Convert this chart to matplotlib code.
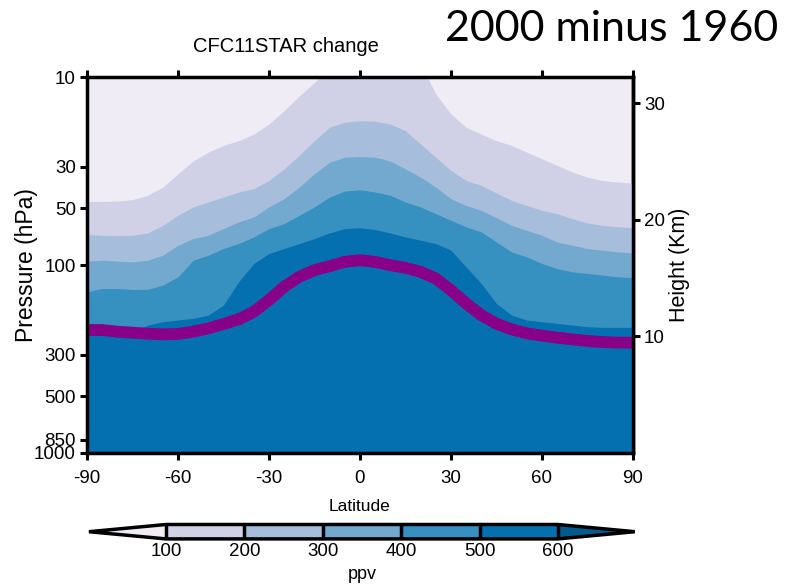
import numpy as np
import matplotlib
matplotlib.use('Agg')
import matplotlib.pyplot as plt
from matplotlib.colors import ListedColormap, BoundaryNorm
from matplotlib.cm import ScalarMappable
from matplotlib.ticker import NullLocator

plt.rcParams['font.family'] = ['Liberation Sans', 'DejaVu Sans']

# latitude columns (deg), every 5 degrees
lat = [-90, -85, -80, -75, -70, -65, -60, -55, -50, -45, -40, -35, -30, -25, -20, -15, -10, -5, 0,
       5, 10, 15, 20, 25, 30, 35, 40, 45, 50, 55, 60, 65, 70, 75, 80, 85, 90]

# pressure (hPa) where the CFC11STAR change crosses each contour level
p_100 = [45.9, 45.9, 45.7, 44.9, 42.6, 38.5, 32.7, 28.0, 25.1, 23.1, 21.8, 20.1, 17.8, 15.1, 12.6, 10.7, 9.0, 7.8, 7.5,
         7.5, 7.5, 7.8, 8.5, 12.3, 15.7, 18.5, 20.1, 21.8, 23.1, 25.1, 27.2, 29.5, 32.0, 34.1, 35.5, 36.2, 36.7]
p_200 = [68.9, 69.5, 69.8, 69.5, 67.5, 61.5, 54.4, 49.1, 46.2, 43.5, 40.9, 39.3, 35.5, 30.8, 26.1, 21.8, 18.5, 17.4, 17.1,
         17.2, 17.8, 19.3, 22.7, 26.7, 31.4, 35.5, 37.7, 41.4, 45.3, 48.2, 51.2, 53.3, 56.7, 59.7, 61.5, 62.7, 63.3]
p_300 = [95.4, 94.3, 95.4, 96.2, 94.3, 88.7, 78.5, 72.3, 69.5, 64.0, 59.0, 55.5, 49.1, 44.4, 38.5, 32.7, 28.4, 26.7, 26.5,
         26.7, 28.0, 30.8, 34.1, 38.5, 44.4, 48.2, 51.2, 56.0, 61.5, 65.4, 69.5, 75.4, 78.5, 81.7, 83.4, 85.2, 86.2]
p_400 = [138.8, 133.3, 133.3, 134.9, 134.9, 127.9, 115.6, 94.3, 88.7, 81.7, 76.9, 70.9, 64.0, 60.2, 54.4, 49.1, 43.5, 40.4, 39.8,
         40.9, 42.6, 46.2, 49.1, 53.3, 57.8, 62.7, 66.7, 75.4, 85.2, 90.5, 98.2, 104.4, 108.7, 110.9, 113.2, 115.6, 116.5]
p_500 = [221.7, 221.7, 226.3, 229.1, 208.6, 200.3, 196.2, 192.2, 184.6, 163.4, 122.8, 98.2, 86.9, 81.7, 76.9, 72.3, 67.5, 64.0, 63.3,
         64.8, 67.5, 70.9, 73.8, 76.9, 83.4, 102.3, 125.3, 160.1, 184.6, 196.2, 200.3, 204.4, 208.6, 212.8, 214.6, 214.6, 214.6]

# tropopause pressure (hPa)
p_trop = [221.7, 221.7, 226.3, 229.1, 231.9, 233.8, 232.8, 226.3, 217.3, 206.0, 194.6, 177.2, 153.7, 130.5, 115.6, 106.5, 101.4, 96.2, 94.3,
          96.2, 100.2, 103.5, 108.7, 117.9, 136.0, 160.1, 184.6, 205.2, 219.9, 230.9, 237.6, 243.5, 248.5, 253.6, 256.7, 258.8, 258.8]

levels = [100, 200, 300, 400, 500, 600]
colors = ['#efecf5', '#d0d1e6', '#a6bddb', '#74a9cf', '#3690c0', '#0570b0', '#045a8d']

p_ticks = [10, 30, 50, 100, 300, 500, 850, 1000]
z_ticks = [10, 20, 30]
lat_ticks = [-90, -60, -30, 0, 30, 60, 90]

fig = plt.figure(figsize=(7.98, 5.88), dpi=100)
ax = fig.add_axes([0.109, 0.2296, 0.684, 0.6394])
ax.set_facecolor(colors[0])

bounds = [p_100, p_200, p_300, p_400, p_500]
for i, b in enumerate(bounds):
    ax.fill_between(lat, b, 1000, color=colors[i + 1], lw=0)

ax.plot(lat, p_trop, color='#880088', lw=8.5, solid_capstyle='butt')

ax.set_yscale('log')
ax.set_ylim(1000, 10)
ax.set_xlim(-90, 90)
ax.set_yticks(p_ticks)
ax.set_yticklabels([str(t) for t in p_ticks])
ax.yaxis.set_minor_locator(NullLocator())
ax.set_xticks(lat_ticks)
ax.set_xticklabels([str(t) for t in lat_ticks])
ax.tick_params(axis='both', direction='out', length=5, width=2.2, labelsize=13.5, pad=3)
ax.tick_params(axis='x', top=True, pad=7)
for s in ax.spines.values():
    s.set_linewidth(2.5)

ax.set_xlabel('Latitude', fontsize=12.5, labelpad=9)
ax.set_ylabel('Pressure (hPa)', fontsize=16.5)
ax.yaxis.set_label_coords(-0.09, 0.5)


def p2z(p):
    return 7.0 * np.log(1000.0 / np.clip(p, 1e-6, None))


def z2p(z):
    return 1000.0 * np.exp(-np.asarray(z) / 7.0)


sec = ax.secondary_yaxis('right', functions=(p2z, z2p))
sec.set_yticks(z_ticks)
sec.set_yticklabels([str(t) for t in z_ticks])
sec.yaxis.set_minor_locator(NullLocator())
sec.tick_params(direction='out', length=5, width=2.2, labelsize=13.5, pad=3)
sec.spines['right'].set_linewidth(2.5)
sec.set_ylabel('Height (Km)', fontsize=15.5, labelpad=3)

fig.text(0.3585, 0.921, 'CFC11STAR change', fontsize=14.5, ha='center', va='center')
fig.text(0.766, 0.951, '2000 minus 1960', fontsize=31, ha='center', va='center',
         family=['Lato', 'DejaVu Sans'])

# colourbar
cmap = ListedColormap(colors[1:-1]).with_extremes(under=colors[0], over=colors[-1])
norm = BoundaryNorm(levels, cmap.N)
sm = ScalarMappable(norm=norm, cmap=cmap)
cax = fig.add_axes([0.1115, 0.0835, 0.684, 0.0245])
cb = fig.colorbar(sm, cax=cax, orientation='horizontal', extend='both',
                  extendfrac=0.196, drawedges=True)
cb.outline.set_linewidth(2.5)
cb.dividers.set_linewidth(2.5)
cb.set_ticks(levels)
cb.ax.tick_params(length=0, labelsize=13.5, pad=3)
cb.set_label('ppv', fontsize=13, labelpad=4)

fig.savefig('out.png', dpi=100)
